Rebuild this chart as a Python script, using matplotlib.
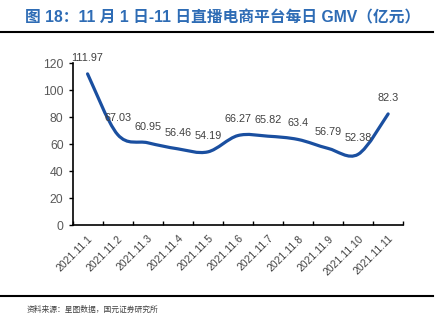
import matplotlib.pyplot as plt
from matplotlib.path import Path
from matplotlib.patches import PathPatch
from matplotlib.lines import Line2D

dates = ['2021.11.1', '2021.11.2', '2021.11.3', '2021.11.4', '2021.11.5', '2021.11.6',
         '2021.11.7', '2021.11.8', '2021.11.9', '2021.11.10', '2021.11.11']
gmv = [111.97, 67.03, 60.95, 56.46, 54.19, 66.27, 65.82, 63.4, 56.79, 52.38, 82.3]

LATIN_CJK = ['Liberation Sans', 'Noto Sans CJK SC']
plt.rcParams['font.family'] = LATIN_CJK

fig = plt.figure(figsize=(4.45, 3.3), dpi=100)
ax = fig.add_axes([0.163, 0.318, 0.743, 0.491])

# smoothed line (catmull-rom -> bezier), like excel's smooth line
xs = list(range(len(gmv)))
pts = list(zip(xs, gmv))
verts = [pts[0]]
codes = [Path.MOVETO]
for i in range(len(pts) - 1):
    p0 = pts[i - 1] if i > 0 else pts[i]
    p1 = pts[i]
    p2 = pts[i + 1]
    p3 = pts[i + 2] if i + 2 < len(pts) else pts[i + 1]
    c1 = (p1[0] + (p2[0] - p0[0]) / 6, p1[1] + (p2[1] - p0[1]) / 6)
    c2 = (p2[0] - (p3[0] - p1[0]) / 6, p2[1] - (p3[1] - p1[1]) / 6)
    verts += [c1, c2, p2]
    codes += [Path.CURVE4] * 3
ax.add_patch(PathPatch(Path(verts, codes), facecolor='none', edgecolor='#1a4fa0', lw=2.3,
                       capstyle='round'))

for x, v in zip(xs, gmv):
    ax.annotate(f'{v:g}', (x, v), xytext=(0, 8), textcoords='offset points',
                ha='center', va='bottom', fontsize=7.8, color='#404040')

ax.set_xlim(-0.5, len(gmv) - 0.5)
ax.set_ylim(0, 120)
ax.set_yticks(range(0, 121, 20))
ax.set_xticks(xs)
ax.set_xticklabels(dates, rotation=45, ha='right', rotation_mode='anchor')
ax.set_xticks([x + 0.5 for x in range(-1, len(gmv))], minor=True)
ax.tick_params(axis='x', which='major', length=0, labelsize=7.5, labelcolor='#404040', pad=6)
ax.tick_params(axis='x', which='minor', direction='in', length=3, width=1)
ax.tick_params(axis='y', direction='out', length=3, width=1, labelsize=8.8, labelcolor='#595959')
for s in ['top', 'right']:
    ax.spines[s].set_visible(False)
for s in ['left', 'bottom']:
    ax.spines[s].set_linewidth(1.2)

fig.text(0.5, 0.946, '图 18：11 月 1 日-11 日直播电商平台每日 GMV（亿元）', ha='center', va='center',
         fontsize=11.3, fontweight='bold', color='#2e6cb5')
fig.add_artist(Line2D([0, 0.972], [1 - 32 / 330] * 2, color='black', lw=1.5))
fig.add_artist(Line2D([0, 0.972], [1 - 296 / 330] * 2, color='black', lw=1.5))
fig.text(27 / 445, 1 - 310 / 330, '资料来源：星图数据，国元证券研究所', ha='left', va='center',
         fontsize=5.6, color='#404040', family='Noto Sans CJK SC')

fig.savefig('out.png', dpi=100)
